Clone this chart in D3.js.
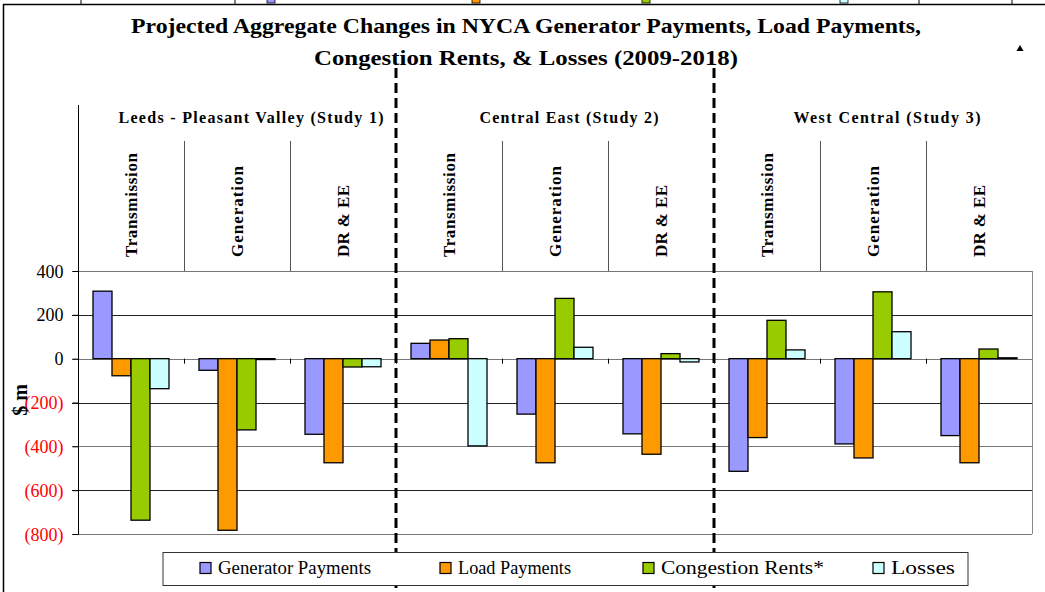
<!DOCTYPE html>
<html><head><meta charset="utf-8">
<script src="https://cdn.jsdelivr.net/npm/d3@7"></script>
<style>body{margin:0;background:#fff}svg{display:block}svg text{font-family:'Liberation Serif','Times New Roman',Times,serif}</style>
</head><body>
<script>
const titleLines = ["Projected Aggregate Changes in NYCA Generator Payments, Load Payments,", "Congestion Rents, & Losses (2009-2018)"];
const studies = ["Leeds - Pleasant Valley (Study 1)", "Central East (Study 2)", "West Central (Study 3)"];
const categories = ["Transmission", "Generation", "DR & EE"];
const seriesNames = ["Generator Payments", "Load Payments", "Congestion Rents*", "Losses"];
const seriesColors = ["#9999FF", "#FF9900", "#99CC00", "#CCFFFF"];
const generatorPayments = [308, -53, -345, 70, -253, -343, -514, -389, -351];
const loadPayments = [-78, -783, -475, 85, -475, -436, -360, -453, -475];
const congestionRents = [-737, -325, -38, 91, 275, 23, 175, 305, 44];
const losses = [-137, -4, -37, -398, 52, -15, 40, 123, 4];
const yTicks = [400, 200, 0, -200, -400, -600, -800];
const yLabel = "$ m";

const FONT = "'Liberation Serif', 'Times New Roman', Times, serif";
const W = 1045, H = 592;
const svg = d3.select("body").append("svg").attr("width", W).attr("height", H).attr("font-family", FONT);

const slots = [];
studies.forEach((s, si) => categories.forEach((c, ci) => slots.push({study: si, cat: c, key: si + "|" + c, idx: si * 3 + ci})));
const seriesVals = [generatorPayments, loadPayments, congestionRents, losses];

const x0 = d3.scaleBand().domain(slots.map(d => d.key)).range([78, 1032]).paddingInner(0).paddingOuter(0);
const x1 = d3.scaleBand().domain(seriesNames).range([15, x0.bandwidth() - 15]).padding(0);
const y = d3.scaleLinear().domain([-800, 400]).range([534, 271]);

// outer frame remnants
const frame = svg.append("g");
frame.append("line").attr("x1", 3).attr("x2", W).attr("y1", 4.5).attr("y2", 4.5).attr("stroke", "#000").attr("stroke-width", 1.5);
frame.append("line").attr("x1", 3.5).attr("x2", 3.5).attr("y1", 4).attr("y2", H).attr("stroke", "#000").attr("stroke-width", 1.5);
[81, 235, 919, 1012].forEach(xx => frame.append("line").attr("x1", xx).attr("x2", xx).attr("y1", 0).attr("y2", 4).attr("stroke", "#000"));
[267, 472, 642, 840].forEach((xx, i) => frame.append("rect").attr("x", xx).attr("y", -4).attr("width", 8).attr("height", 7).attr("fill", seriesColors[i]).attr("stroke", "#000").attr("stroke-width", 0.8));

// title
svg.append("g").selectAll("text").data(titleLines).join("text")
  .attr("x", 526).attr("y", (d, i) => 33 + i * 32).attr("text-anchor", "middle")
  .attr("font-family", FONT).attr("font-size", 22).attr("font-weight", "bold")
  .attr("textLength", (d, i) => i === 0 ? 790 : 424).attr("lengthAdjust", "spacingAndGlyphs")
  .text(d => d);

svg.append("path").attr("d", d3.symbol(d3.symbolTriangle, 22)()).attr("transform", "translate(1020,49)").attr("fill", "#000");

// gridlines
svg.append("g").selectAll("line").data(yTicks).join("line")
  .attr("x1", 72).attr("x2", 1032).attr("y1", d => Math.round(y(d)) + 0.5).attr("y2", d => Math.round(y(d)) + 0.5)
  .attr("stroke", (d, i) => i % 2 === 1 ? "#222" : "#777").attr("stroke-width", 1);

svg.append("line").attr("x1", 1032.5).attr("x2", 1032.5).attr("y1", y(400)).attr("y2", y(-800)).attr("stroke", "#888");

// header lines
svg.append("line").attr("x1", 78.5).attr("x2", 78.5).attr("y1", 105).attr("y2", 271).attr("stroke", "#000");
svg.append("g").selectAll("line").data(slots.filter(d => d.idx % 3 !== 0)).join("line")
  .attr("x1", d => Math.round(x0(d.key)) + 0.5).attr("x2", d => Math.round(x0(d.key)) + 0.5)
  .attr("y1", 141).attr("y2", 271).attr("stroke", "#555");

// study labels
const studyLen = [265, 179, 187];
svg.append("g").selectAll("text").data(studies).join("text")
  .attr("x", (d, i) => x0(slots[i * 3 + 1].key) + x0.bandwidth() / 2 + 14)
  .attr("y", 123).attr("text-anchor", "middle").attr("font-family", FONT).attr("font-size", 16).attr("font-weight", "bold")
  .attr("textLength", (d, i) => studyLen[i]).attr("lengthAdjust", "spacing")
  .text(d => d);

// category labels (rotated)
const catLen = {"Transmission": 104, "Generation": 91, "DR & EE": 72};
svg.append("g").selectAll("text").data(slots).join("text")
  .attr("transform", d => `translate(${x0(d.key) + x0.bandwidth() / 2 + 6},257) rotate(-90)`)
  .attr("text-anchor", "start").attr("font-family", FONT).attr("font-size", 17).attr("font-weight", "bold")
  .attr("textLength", d => catLen[d.cat]).attr("lengthAdjust", "spacing")
  .text(d => d.cat);

// y axis
const yAxis = d3.axisLeft(y).tickValues(yTicks).tickSize(6).tickPadding(9)
  .tickFormat(d => d < 0 ? "(" + d3.format(",")(-d) + ")" : d3.format(",")(d));
const ya = svg.append("g").attr("transform", "translate(78.5,0)").call(yAxis);
ya.attr("font-family", FONT);
ya.select(".domain").attr("stroke", "#000").attr("d", `M0,${y(400)}V${y(-800)}`);
ya.selectAll(".tick line").attr("stroke", "#000");
ya.selectAll(".tick text").attr("font-family", FONT).attr("font-size", 18)
  .attr("fill", d => d < 0 ? "#FF0000" : "#000").attr("dy", "0.34em");

svg.append("text").attr("transform", "translate(27,400) rotate(-90)").attr("text-anchor", "middle")
  .attr("font-family", FONT).attr("font-size", 20).attr("font-weight", "bold").text(yLabel);

// bars
const groups = svg.append("g").selectAll("g").data(slots).join("g")
  .attr("transform", d => `translate(${x0(d.key)},0)`);
groups.selectAll("rect").data(d => seriesNames.map((s, k) => ({s, k, v: seriesVals[k][d.idx]}))).join("rect")
  .attr("x", d => x1(d.s)).attr("width", x1.bandwidth())
  .attr("y", d => y(Math.max(0, d.v))).attr("height", d => Math.abs(y(d.v) - y(0)))
  .attr("fill", d => seriesColors[d.k]).attr("stroke", "#000").attr("stroke-width", 1.3);

svg.append("g").selectAll("line").data(slots.slice(1)).join("line")
  .attr("x1", d => Math.round(x0(d.key)) + 0.5).attr("x2", d => Math.round(x0(d.key)) + 0.5)
  .attr("y1", y(0)).attr("y2", y(0) + 5).attr("stroke", "#000");

// dashed study separators
svg.append("g").selectAll("line").data([3, 6]).join("line")
  .attr("x1", d => x0(slots[d].key)).attr("x2", d => x0(slots[d].key))
  .attr("y1", 68).attr("y2", H).attr("stroke", "#000").attr("stroke-width", 3)
  .attr("stroke-dasharray", "10,5");

// legend
const lg = svg.append("g");
lg.append("rect").attr("x", 163).attr("y", 552.5).attr("width", 805).attr("height", 33).attr("fill", "#fff").attr("stroke", "#333").attr("stroke-width", 1);
const legX = [200, 440, 643, 873];
const legLen = [153, 113, 163, 64];
const li = lg.selectAll("g.item").data(seriesNames).join("g").attr("class", "item")
  .attr("transform", (d, i) => `translate(${legX[i]},0)`);
li.append("rect").attr("x", 0).attr("y", 562.5).attr("width", 11).attr("height", 11)
  .attr("fill", (d, i) => seriesColors[i]).attr("stroke", "#000").attr("stroke-width", 1.2);
li.append("text").attr("x", 18).attr("y", 574).attr("font-family", FONT).attr("font-size", 18)
  .attr("textLength", (d, i) => legLen[i]).attr("lengthAdjust", "spacingAndGlyphs").text(d => d);
</script>
</body></html>
